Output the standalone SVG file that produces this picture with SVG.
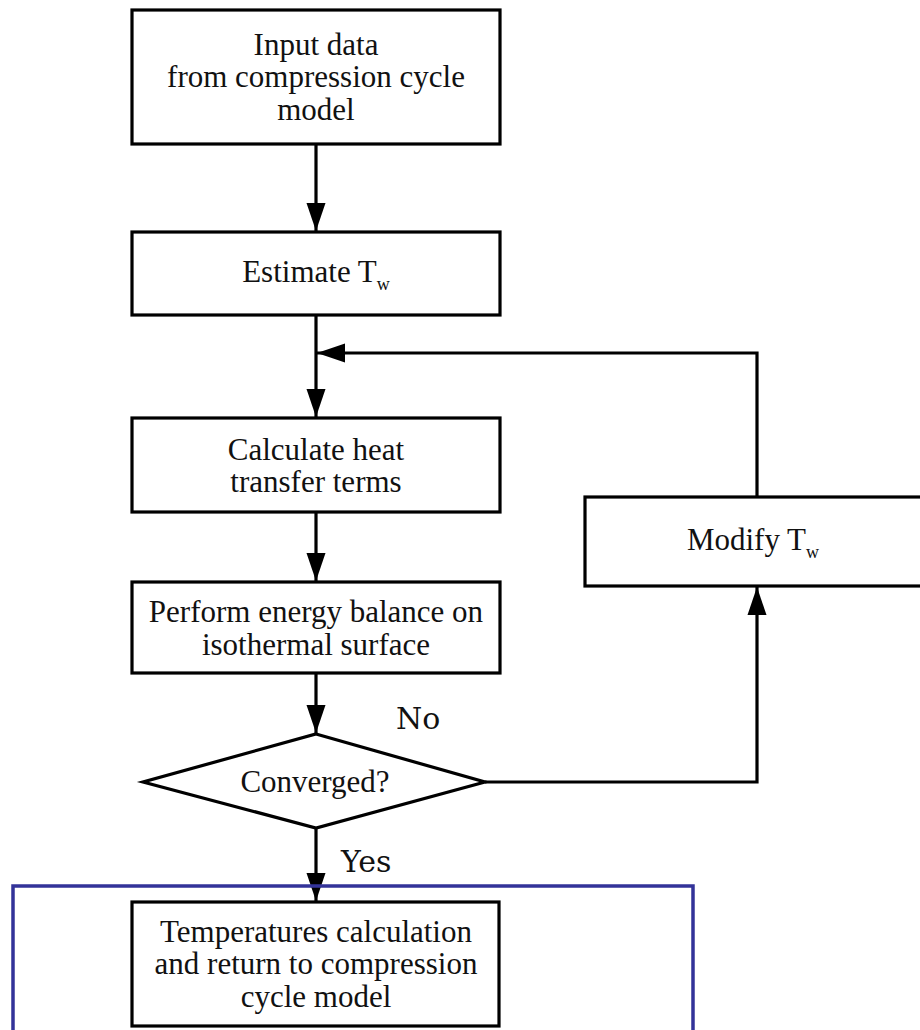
<svg xmlns="http://www.w3.org/2000/svg" width="920" height="1030" viewBox="0 0 920 1030">
<style>
.box{fill:#fff;stroke:#000;stroke-width:3.2}
.t{font-family:"Liberation Serif","Times New Roman",serif;font-size:31px;fill:#111;text-anchor:middle}
.lbl{font-family:"DejaVu Serif","Liberation Serif",serif;font-size:30px;fill:#111}
.c{fill:none;stroke:#000;stroke-width:3.2}
</style>
<defs>
<marker id="ah" markerUnits="userSpaceOnUse" markerWidth="30" markerHeight="20" refX="28" refY="10" orient="auto">
<path d="M0,0.5 L28,10 L0,19.5 z" fill="#000"/>
</marker>
</defs>
<rect width="920" height="1030" fill="#fff"/>
<g id="connectors">
<line class="c" x1="316" y1="144" x2="316" y2="231" marker-end="url(#ah)"/>
<line class="c" x1="316" y1="315" x2="316" y2="417" marker-end="url(#ah)"/>
<polyline class="c" points="757,497 757,353 317,353" marker-end="url(#ah)"/>
<line class="c" x1="316" y1="512" x2="316" y2="581" marker-end="url(#ah)"/>
<line class="c" x1="316" y1="673" x2="316" y2="733" marker-end="url(#ah)"/>
<polyline class="c" points="485,782 757,782 757,587" marker-end="url(#ah)"/>
<line class="c" x1="316" y1="828" x2="316" y2="901" marker-end="url(#ah)"/>
</g>
<g id="input">
<rect class="box" x="132" y="10" width="368" height="134"/>
<text class="t" x="316" y="55">Input data</text>
<text class="t" x="316" y="87">from compression cycle</text>
<text class="t" x="316" y="120">model</text>
</g>
<g id="estimate">
<rect class="box" x="132" y="232" width="368" height="83"/>
<text class="t" x="316" y="282">Estimate T<tspan font-size="18" dy="8">w</tspan></text>
</g>
<g id="calculate">
<rect class="box" x="132" y="418" width="368" height="94"/>
<text class="t" x="316" y="460">Calculate heat</text>
<text class="t" x="316" y="492">transfer terms</text>
</g>
<g id="energy">
<rect class="box" x="132" y="582" width="368" height="91"/>
<text class="t" x="316" y="622">Perform energy balance on</text>
<text class="t" x="316" y="655">isothermal surface</text>
</g>
<g id="converged">
<polygon class="box" points="316,734 485,782 316,828 143,782"/>
<text class="t" x="315" y="792">Converged?</text>
</g>
<g id="modify">
<rect class="box" x="585" y="497" width="345" height="89"/>
<text class="t" x="753" y="550">Modify T<tspan font-size="18" dy="8">w</tspan></text>
</g>
<g id="labels">
<text class="lbl" x="396" y="729">No</text>
<text class="lbl" x="341" y="872">Yes</text>
</g>
<g id="result">
<rect class="box" x="132" y="902" width="367" height="124"/>
<text class="t" x="316" y="942">Temperatures calculation</text>
<text class="t" x="316" y="974">and return to compression</text>
<text class="t" x="316" y="1007">cycle model</text>
</g>
<g id="frame">
<path d="M13,1035 L13,886 L693,886 L693,1035" fill="none" stroke="#333399" stroke-width="3.5"/>
</g>
</svg>
